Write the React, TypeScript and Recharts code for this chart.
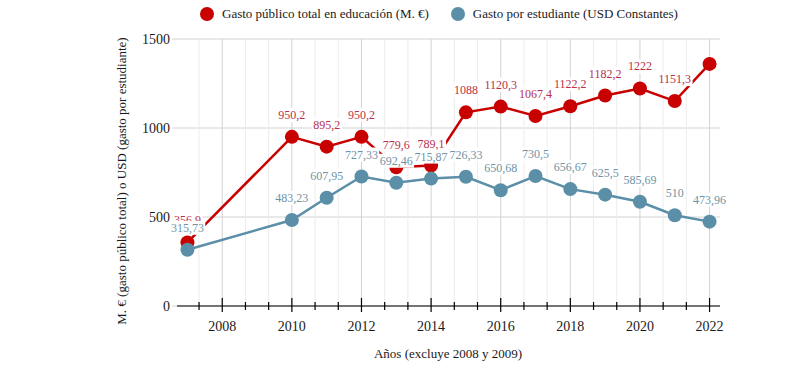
import { LineChart, Line, XAxis, YAxis, CartesianGrid, ReferenceLine, LabelList } from "recharts";

const years = [2007, 2010, 2011, 2012, 2013, 2014, 2015, 2016, 2017, 2018, 2019, 2020, 2021, 2022];
const gastoTotal = [356.9, 950.2, 895.2, 950.2, 779.6, 789.1, 1088, 1120.3, 1067.4, 1122.2, 1182.2, 1222, 1151.3, 1360];
const gastoEstudiante = [315.73, 483.23, 607.95, 727.33, 692.46, 715.87, 726.33, 650.68, 730.5, 656.67, 625.5, 585.69, 510, 473.96];

const majorTicks = [2008, 2010, 2012, 2014, 2016, 2018, 2020, 2022];
// light grid/ticks every 2/3 of a year between the labelled ones
const minorTicks = majorTicks
  .flatMap((m) => [m - 2 / 3, m + 2 / 3])
  .filter((t) => t > 2007 && t < 2022.3);
const yTicks = [0, 500, 1000, 1500];

const C = {
  red: "#c80000",
  redLabel: "#b8304c",
  blue: "#5b8fa8",
  blueLabel: "#6f93a6",
  ink: "#1a1a1a",
  gridMajor: "#d2d2d2",
  gridMinor: "#ececec",
};
const FONT = "Tinos, 'Times New Roman', Times, 'Nimbus Roman', 'Nimbus Roman No9 L', FreeSerif, 'Noto Serif', 'Liberation Serif', 'DejaVu Serif', serif";

const data = years.map((year, i) => ({
  year,
  total: gastoTotal[i],
  estudiante: gastoEstudiante[i],
}));

const fmt = (v: number) => String(v).replace(".", ",");

const makeLabel = (color: string, skipLast: boolean) => (props: any) => {
  const { x, y, value, index } = props;
  if (skipLast && index === data.length - 1) return null;
  const txt = fmt(value);
  const w = txt.length * 5.6 + 2;
  return (
    <g>
      <rect x={x - w / 2} y={y - 29} width={w} height={14} fill="#fff" />
      <text x={x} y={y - 22} textAnchor="middle" dominantBaseline="central" fontSize={12} fill={color} style={{ fontFamily: FONT }}>
        {txt}
      </text>
    </g>
  );
};

const XTick = (props: any) => {
  const { x, y, payload } = props;
  const major = majorTicks.includes(payload.value);
  return (
    <g>
      <line x1={x} x2={x} y1={y - (major ? 8 : 4)} y2={y + (major ? 6 : 4)} stroke="#000" strokeWidth={1.2} />
      {major && (
        <text x={x} y={y + 20} textAnchor="middle" dominantBaseline="central" fontSize={14} fill={C.ink} style={{ fontFamily: FONT }}>
          {payload.value}
        </text>
      )}
    </g>
  );
};

export default function App() {
  return (
    <div style={{ position: "absolute", left: 0, top: 0, width: 790, height: 381, background: "#fff", fontFamily: FONT }}>
      {/* legend */}
      <div style={{ position: "absolute", top: 6, left: 200, display: "flex", alignItems: "center", fontSize: 13, color: C.ink, whiteSpace: "nowrap" }}>
        <span style={{ width: 14, height: 14, borderRadius: 7, background: C.red, display: "inline-block", marginRight: 8 }} />
        <span>Gasto público total en educación (M. €)</span>
        <span style={{ width: 14, height: 14, borderRadius: 7, background: C.blue, display: "inline-block", marginLeft: 22, marginRight: 8 }} />
        <span>Gasto por estudiante (USD Constantes)</span>
      </div>

      <LineChart width={790} height={381} data={data} margin={{ top: 39, right: 70, left: 117, bottom: 45 }}>
        <CartesianGrid vertical={false} stroke={C.gridMajor} />
        {minorTicks.map((t) => (
          <ReferenceLine key={"m" + t} x={t} stroke={C.gridMinor} />
        ))}
        {majorTicks.map((t) => (
          <ReferenceLine key={"M" + t} x={t} stroke={C.gridMajor} />
        ))}
        <XAxis
          dataKey="year"
          type="number"
          domain={[2006.7, 2022.3]}
          allowDataOverflow
          ticks={[...majorTicks, ...minorTicks].sort((a, b) => a - b)}
          interval={0}
          tick={<XTick />}
          tickLine={false}
          tickSize={0}
          tickMargin={0}
          height={30}
          axisLine={{ stroke: "#000", strokeWidth: 1.2 }}
        />
        <YAxis
          domain={[0, 1500]}
          ticks={yTicks}
          width={60}
          axisLine={false}
          tickLine={{ stroke: C.gridMajor }}
          tickSize={5}
          tickMargin={2}
          tick={{ fontSize: 14, fill: C.ink, style: { fontFamily: FONT } }}
        />
        <Line dataKey="total" stroke={C.red} strokeWidth={2.5} dot={{ r: 7, fill: C.red, stroke: C.red, strokeWidth: 0 }} isAnimationActive={false}>
          <LabelList dataKey="total" content={makeLabel(C.redLabel, true)} />
        </Line>
        <Line dataKey="estudiante" stroke={C.blue} strokeWidth={2.5} dot={{ r: 7, fill: C.blue, stroke: C.blue, strokeWidth: 0 }} isAnimationActive={false}>
          <LabelList dataKey="estudiante" content={makeLabel(C.blueLabel, false)} />
        </Line>
      </LineChart>

      {/* axis titles */}
      <div style={{ position: "absolute", left: 448, top: 354, transform: "translate(-50%, -50%)", fontSize: 13, color: C.ink, whiteSpace: "nowrap" }}>
        Años (excluye 2008 y 2009)
      </div>
      <div style={{ position: "absolute", left: 122, top: 181, transform: "translate(-50%, -50%) rotate(-90deg)", fontSize: 13, color: C.ink, whiteSpace: "nowrap" }}>
        M. € (gasto público total) o USD (gasto por estudiante)
      </div>
    </div>
  );
}
